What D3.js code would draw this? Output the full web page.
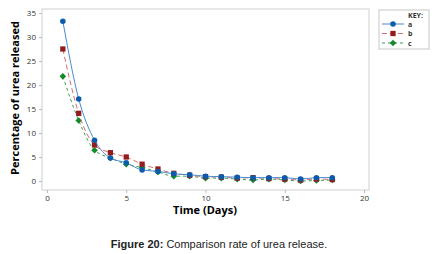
<!DOCTYPE html>
<html>
<head>
<meta charset="utf-8">
<script src="https://cdn.jsdelivr.net/npm/d3@7"></script>
<style>
  body { margin: 0; background: #fff; }
  .axis text { font-family: "Open Sans", "DejaVu Sans", sans-serif; font-size: 8px; fill: #333; }
  .axis path, .axis line { stroke: #bbb; }
</style>
</head>
<body>
<div id="chart"></div>
<script>
var days = [1, 2, 3, 4, 5, 6, 7, 8, 9, 10, 11, 12, 13, 14, 15, 16, 17, 18];
var seriesA = [33.3, 17.1, 8.5, 4.8, 3.8, 2.3, 2.0, 1.5, 1.3, 1.0, 0.9, 0.8, 0.7, 0.7, 0.7, 0.4, 0.7, 0.7];
var seriesB = [27.5, 14.1, 7.5, 5.9, 5.0, 3.5, 2.5, 1.6, 1.2, 0.9, 0.8, 0.6, 0.7, 0.5, 0.4, 0.2, 0.4, 0.3];
var seriesC = [21.8, 12.6, 6.4, 4.8, 3.5, 2.8, 1.9, 1.0, 1.0, 0.6, 0.6, 0.4, 0.2, 0.4, 0.2, 0.0, 0.1, 0.2];
var seriesNames = ["a", "b", "c"];
var xTicks = [0, 5, 10, 15, 20];
var yTicks = [0, 5, 10, 15, 20, 25, 30, 35];

var w = 439, h = 254;
var svg = d3.select("#chart").append("svg")
    .attr("width", w)
    .attr("height", h);

// frame of the plot area
var frame = {left: 42, right: 369, top: 9, bottom: 190};
var x = d3.scaleLinear().domain([0, 20]).range([47, 364]);
var y = d3.scaleLinear().domain([0, 35]).range([181, 13]);

svg.append("rect")
    .attr("x", frame.left).attr("y", frame.top)
    .attr("width", frame.right - frame.left)
    .attr("height", frame.bottom - frame.top)
    .attr("fill", "none").attr("stroke", "#d0d0d0").attr("stroke-width", 1);

// axes
svg.append("g")
    .attr("class", "axis axis--x")
    .attr("transform", "translate(0," + frame.bottom + ")")
    .call(d3.axisBottom(x).tickValues(xTicks).tickSize(3).tickPadding(2))
    .call(function(g) { g.select(".domain").remove(); });
svg.append("g")
    .attr("class", "axis axis--y")
    .attr("transform", "translate(" + frame.left + ",0)")
    .call(d3.axisLeft(y).tickValues(yTicks).tickSize(3).tickPadding(3))
    .call(function(g) { g.select(".domain").remove(); });

// axis titles
svg.append("text")
    .attr("x", 205).attr("y", 214)
    .attr("text-anchor", "middle")
    .style("font-family", "'Open Sans', 'DejaVu Sans', sans-serif")
    .style("font-size", "11px").style("font-weight", "bold")
    .text("Time (Days)");
svg.append("text")
    .attr("transform", "translate(19,98) rotate(-90)")
    .attr("text-anchor", "middle")
    .style("font-family", "'Open Sans', 'DejaVu Sans', sans-serif")
    .style("font-size", "11px").style("font-weight", "bold")
    .text("Percentage of urea released");

// series; diamond = square turned 45 degrees
var styles = [
  {data: seriesA, line: "#4a8ad0", mark: "#0b5cad", dash: null, shape: d3.symbolCircle, size: 24, rot: 0},
  {data: seriesB, line: "#d07070", mark: "#951c1c", dash: "5,3", shape: d3.symbolSquare, size: 28, rot: 0},
  {data: seriesC, line: "#3aa050", mark: "#138a2b", dash: "3,3", shape: d3.symbolSquare, size: 22, rot: 45}
];
var line = d3.line()
    .x(function(d) { return x(d[0]); })
    .y(function(d) { return y(d[1]); })
    .curve(d3.curveMonotoneX);

styles.slice().reverse().forEach(function(s) {
  var pts = days.map(function(d, i) { return [d, s.data[i]]; });
  svg.append("path")
      .datum(pts)
      .attr("fill", "none")
      .attr("stroke", s.line)
      .attr("stroke-width", 1)
      .attr("stroke-dasharray", s.dash)
      .attr("d", line);
  svg.selectAll(null)
      .data(pts)
      .enter().append("path")
      .attr("transform", function(d) {
        return "translate(" + x(d[0]) + "," + y(d[1]) + ") rotate(" + s.rot + ")";
      })
      .attr("d", d3.symbol().type(s.shape).size(s.size))
      .attr("fill", s.mark);
});

// legend
var legend = svg.append("g").attr("transform", "translate(379,10)");
legend.append("rect")
    .attr("width", 50).attr("height", 39)
    .attr("fill", "#fff").attr("stroke", "#c8c8c8");
legend.append("text")
    .attr("x", 29).attr("y", 8)
    .style("font-family", "'Open Sans', 'DejaVu Sans', sans-serif")
    .style("font-size", "7px").style("font-weight", "bold").attr("fill", "#333")
    .text("KEY:");
styles.forEach(function(s, i) {
  var ly = 14 + i * 9.5;
  legend.append("line")
      .attr("x1", 3).attr("x2", 25).attr("y1", ly).attr("y2", ly)
      .attr("stroke", s.line).attr("stroke-dasharray", s.dash);
  legend.append("path")
      .attr("transform", "translate(14," + ly + ") rotate(" + s.rot + ")")
      .attr("d", d3.symbol().type(s.shape).size(s.size))
      .attr("fill", s.mark);
  legend.append("text")
      .attr("x", 29).attr("y", ly + 2.5)
      .style("font-family", "'Open Sans', 'DejaVu Sans', sans-serif")
      .style("font-size", "7px").style("font-weight", "bold").attr("fill", "#333")
      .text(seriesNames[i]);
});

// caption
var cap = svg.append("text")
    .attr("x", 219).attr("y", 248)
    .attr("text-anchor", "middle")
    .style("font-family", "'Liberation Sans', Arial, sans-serif")
    .style("font-size", "11px").attr("fill", "#222");
cap.append("tspan").style("font-weight", "bold").text("Figure 20:");
cap.append("tspan").text(" Comparison rate of urea release.");
</script>
</body>
</html>
